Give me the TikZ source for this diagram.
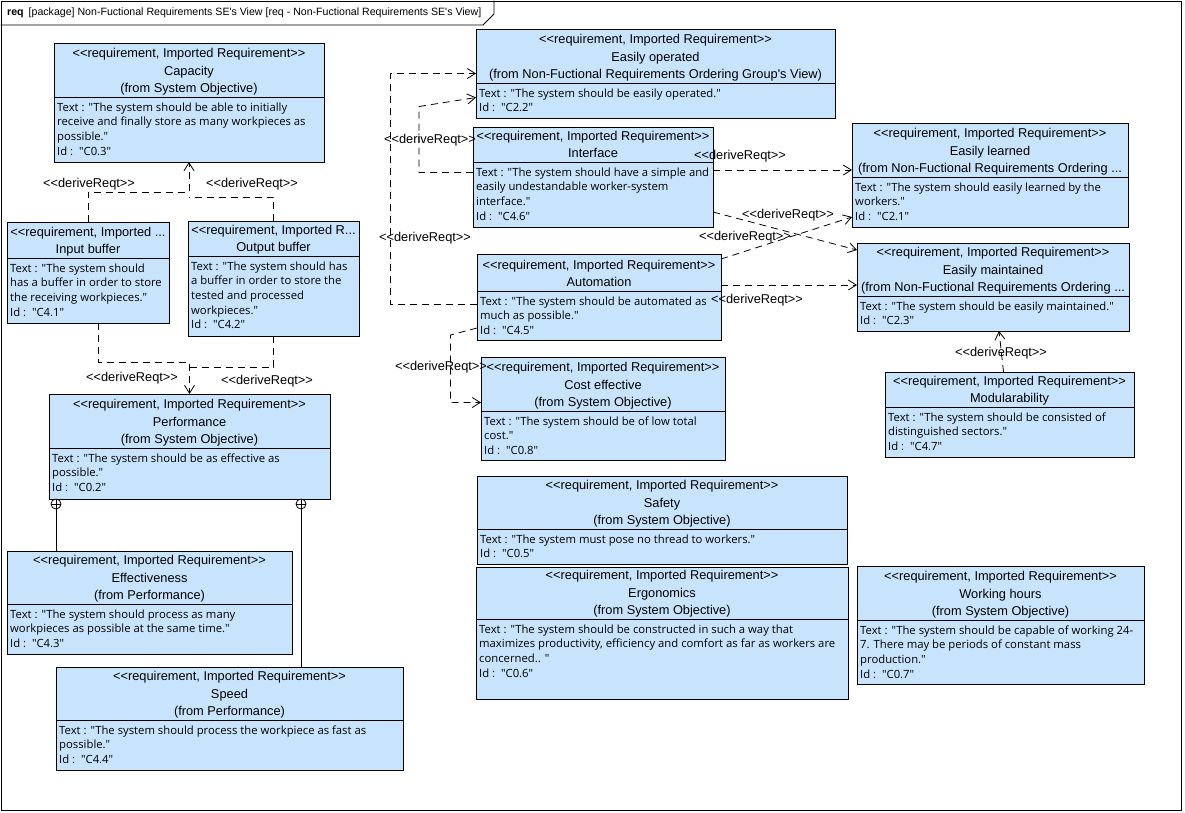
\documentclass[tikz,border=0pt]{standalone}
\usepackage{fontspec}
\newfontfamily\hdfont{Liberation Sans}
\newfontfamily\bdfont{Open Sans}
\usetikzlibrary{arrows.meta,calc}
\definecolor{reqblue}{RGB}{200,228,252}

% requirement box: name, x1, y1, x2, y2, separator y, header, body
\newcommand{\reqbox}[8]{%
  \node[req, anchor=north west, minimum width={(#4-#2)*1pt}, minimum height={(#5-#3)*1pt}] (#1) at (#2,#3) {};
  \draw[line width=0.8pt] (#2,#6) -- (#4,#6);
  \node[headtxt, anchor=south] (#1-head) at ({(#2+#4)/2},{#6+1.2}) {#7\strut};
  \node[bodytxt, anchor=north west] (#1-body) at ({#2+3},{#6+3.7}) {\strut#8};
}

\begin{document}
\begin{tikzpicture}[
    x=1pt, y=-1pt,
    req/.style={rectangle, draw, fill=reqblue, line width=0.8pt, inner sep=0pt, outer sep=0pt},
    headtxt/.style={font=\hdfont\fontsize{12.8}{17.5}\selectfont, align=center, inner sep=0pt},
    bodytxt/.style={font=\bdfont\fontsize{11.3}{14.7}\selectfont, align=left, inner sep=0pt},
    derive/.style={line width=0.8pt, dash pattern=on 7pt off 5pt, >={Straight Barb[length=8pt,width=10pt]}},
    lbl/.style={font=\hdfont\fontsize{12.8}{15}\selectfont, inner sep=0pt},
    owner/.style={circle, draw, line width=0.8pt, fill=white, minimum size=10pt, inner sep=0pt,
      path picture={\draw (path picture bounding box.north) -- (path picture bounding box.south)
        (path picture bounding box.west) -- (path picture bounding box.east);}}
]
\useasboundingbox (0,0) rectangle (1185,812);

% diagram frame
\node[draw, line width=0.8pt, anchor=north west, minimum width=1180pt, minimum height=809.5pt, inner sep=0pt] (frame) at (0.5,0.5) {};
\draw[line width=0.8pt] (0.5,25) -- (483,25) -- (494,14) -- (494,0.5);
\node[anchor=west, font=\hdfont\fontsize{10.6}{13}\selectfont, inner sep=0pt] (title) at (7,13)
  {\textbf{req}\hspace{5pt}[package] Non-Fuctional Requirements SE's View [req - Non-Fuctional Requirements SE's View]};

% left column
\reqbox{cap}{54}{43}{324}{162}{97}
  {<<requirement, Imported Requirement>>\\Capacity\\(from System Objective)}
  {Text : "The system should be able to initially\\receive and finally store as many workpieces as\\possible."\\Id :~~"C0.3"}
\reqbox{inbuf}{7}{222}{169}{323}{258}
  {<<requirement, Imported ...\\Input buffer}
  {Text : "The system should\\has a buffer in order to store\\the receiving workpieces."\\Id :~~"C4.1"}
\reqbox{outbuf}{188}{221}{359}{336}{256}
  {<<requirement, Imported R...\\Output buffer}
  {Text : "The system should has\\a buffer in order to store the\\tested and processed\\workpieces."\\Id :~~"C4.2"}
\reqbox{perf}{49}{394}{330}{499}{448}
  {<<requirement, Imported Requirement>>\\Performance\\(from System Objective)}
  {Text : "The system should be as effective as\\possible."\\Id :~~"C0.2"}
\reqbox{effect}{7}{551}{292}{654}{604}
  {<<requirement, Imported Requirement>>\\Effectiveness\\(from Performance)}
  {Text : "The system should process as many\\workpieces as possible at the same time."\\Id :~~"C4.3"}
\reqbox{speed}{56}{667}{403}{770}{720}
  {<<requirement, Imported Requirement>>\\Speed\\(from Performance)}
  {Text : "The system should process the workpiece as fast as\\possible."\\Id :~~"C4.4"}

% middle column
\reqbox{eop}{476}{29}{835}{118}{83}
  {<<requirement, Imported Requirement>>\\Easily operated\\(from Non-Fuctional Requirements Ordering Group's View)}
  {Text : "The system should be easily operated."\\Id :~~"C2.2"}
\reqbox{iface}{473}{127}{713}{227}{162}
  {<<requirement, Imported Requirement>>\\Interface}
  {Text : "The system should have a simple and\\easily undestandable worker-system\\interface."\\Id :~~"C4.6"}
\reqbox{auto}{477}{254}{721}{340}{291}
  {<<requirement, Imported Requirement>>\\Automation}
  {Text : "The system should be automated as\\much as possible."\\Id :~~"C4.5"}
\reqbox{cost}{481}{357}{725}{460}{411}
  {<<requirement, Imported Requirement>>\\Cost effective\\(from System Objective)}
  {Text : "The system should be of low total\\cost."\\Id :~~"C0.8"}
\reqbox{safety}{477}{476}{847}{564}{529}
  {<<requirement, Imported Requirement>>\\Safety\\(from System Objective)}
  {Text : "The system must pose no thread to workers."\\Id :~~"C0.5"}
\reqbox{ergo}{476}{567}{848}{699}{619}
  {<<requirement, Imported Requirement>>\\Ergonomics\\(from System Objective)}
  {Text : "The system should be constructed in such a way that\\maximizes productivity, efficiency and comfort as far as workers are\\concerned.. "\\Id :~~"C0.6"}

% right column
\reqbox{elearn}{852}{123}{1128}{227}{177}
  {<<requirement, Imported Requirement>>\\Easily learned\\(from Non-Fuctional Requirements Ordering ...}
  {Text : "The system should easily learned by the\\workers."\\Id :~~"C2.1"}
\reqbox{emaint}{857}{243}{1129}{331}{296}
  {<<requirement, Imported Requirement>>\\Easily maintained\\(from Non-Fuctional Requirements Ordering ...}
  {Text : "The system should be easily maintained."\\Id :~~"C2.3"}
\reqbox{modul}{885}{372}{1134}{457}{407}
  {<<requirement, Imported Requirement>>\\Modularability}
  {Text : "The system should be consisted of\\distinguished sectors."\\Id :~~"C4.7"}
\reqbox{work}{857}{566}{1144}{684}{620}
  {<<requirement, Imported Requirement>>\\Working hours\\(from System Objective)}
  {Text : "The system should be capable of working 24-\\7. There may be periods of constant mass\\production."\\Id :~~"C0.7"}

% deriveReqt relations
\coordinate (capj) at ([yshift=-35pt]cap.south);
\coordinate (perfj) at ([yshift=27pt]perf.north);
\draw[derive, ->] (inbuf.north) |- ([yshift=-30pt]cap.south) -- (cap.south);
\draw[derive] (outbuf.north) |- (capj);
\draw[derive, ->] ([xshift=10pt]inbuf.south) |- ([yshift=32pt]perf.north) -- (perf.north);
\draw[derive] (outbuf.south) |- (perfj);

\draw[derive, ->] ([yshift=4.5pt]iface.west) -- ++(-54,0) -- ++(0,-66) -- ([yshift=-24pt]eop.west);
\draw[derive, ->] ([yshift=-7pt]auto.west) -- ++(-87,0) |- (eop.west);
\draw[derive, ->] ([yshift=7pt]iface.east) -- ([yshift=5pt]elearn.west);
\draw[derive, ->] ([yshift=-35pt]iface.east) -- ([yshift=-7pt]emaint.north west);
\draw[derive, ->] ([yshift=-5pt]auto.north east) -- ([yshift=10pt]elearn.south west);
\draw[derive, ->] ([yshift=12pt]auto.east) -- ([yshift=2pt]emaint.west);
\draw[derive, ->] ([yshift=12pt]auto.south west) -- ++(-26.5,7) |- ([yshift=6pt]cost.west);
\draw[derive, ->] ([xshift=-6pt]modul.north) -- ([xshift=6pt]emaint.south);

\node[lbl] (l1) at (89,184) {<<deriveReqt>>};
\node[lbl] (l2) at (252,184) {<<deriveReqt>>};
\node[lbl] (l3) at (132,378) {<<deriveReqt>>};
\node[lbl] (l4) at (267,381) {<<deriveReqt>>};
\node[lbl] (l5) at (430,140) {<<deriveReqt>>};
\node[lbl] (l6) at (425,238) {<<deriveReqt>>};
\node[lbl] (l7) at (740,156) {<<deriveReqt>>};
\node[lbl] (l8) at (788,215) {<<deriveReqt>>};
\node[lbl] (l9) at (745,237) {<<deriveReqt>>};
\node[lbl] (l10) at (757,300) {<<deriveReqt>>};
\node[lbl] (l11) at (441,367) {<<deriveReqt>>};
\node[lbl] (l12) at (1001,353) {<<deriveReqt>>};

% containment of Effectiveness and Speed
\node[owner] (own1) at ([shift={(7pt,-5pt)}]perf.south west) {};
\node[owner] (own2) at ([shift={(-29pt,-5pt)}]perf.south east) {};
\draw[line width=0.8pt] (own1) -- (effect.north -| own1);
\draw[line width=0.8pt] (own2) -- (speed.north -| own2);

\end{tikzpicture}
\end{document}
